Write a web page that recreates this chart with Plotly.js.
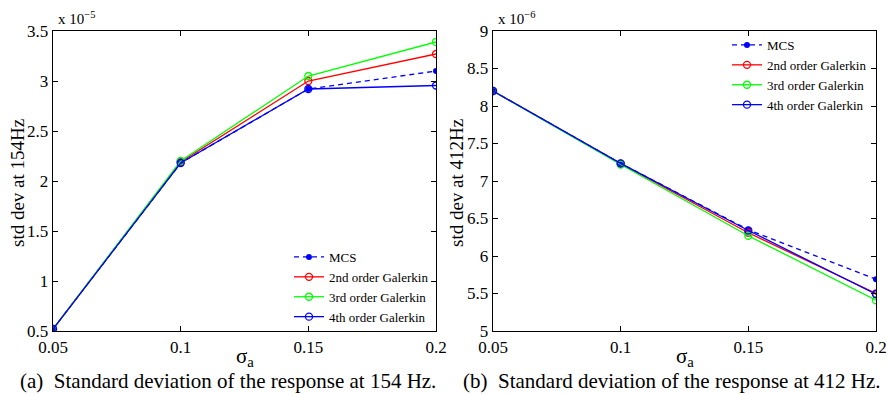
<!DOCTYPE html>
<html>
<head>
<meta charset="utf-8">
<script src="https://cdn.plot.ly/plotly-3.0.1.min.js"></script>
<style>html,body{margin:0;padding:0;background:#fff;}#chart{width:888px;height:394px;}</style>
</head>
<body>
<div id="chart"></div>
<script>
// sigma_a values (x axis)
const sigmaA = [0.05, 0.1, 0.15, 0.2];

// (a) std dev at 154 Hz, in units of 1e-5
const mcs154 = [0.52, 2.18, 2.92, 3.10];
const g2_154 = [0.52, 2.19, 3.00, 3.27];
const g3_154 = [0.52, 2.20, 3.05, 3.39];
const g4_154 = [0.52, 2.18, 2.92, 2.955];

// (b) std dev at 412 Hz, in units of 1e-6
const mcs412 = [8.20, 7.235, 6.35, 5.69];
const g2_412 = [8.20, 7.23, 6.31, 5.50];
const g3_412 = [8.20, 7.22, 6.27, 5.41];
const g4_412 = [8.20, 7.235, 6.34, 5.49];

const seriesNames = ['MCS', '2nd order Galerkin', '3rd order Galerkin', '4th order Galerkin'];
const xTicks = [0.05, 0.1, 0.15, 0.2];
const xTickText = ['0.05', '0.1', '0.15', '0.2'];
const yTicksA = [0.5, 1, 1.5, 2, 2.5, 3, 3.5];
const yTickTextA = ['0.5', '1', '1.5', '2', '2.5', '3', '3.5'];
const yTicksB = [5, 5.5, 6, 6.5, 7, 7.5, 8, 8.5, 9];
const yTickTextB = ['5', '5.5', '6', '6.5', '7', '7.5', '8', '8.5', '9'];
const yTitles = ['std dev at 154Hz', 'std dev at 412Hz'];
const xTitle = 'σ<sub>a</sub>';
const exponents = ['x 10<sup>−5</sup>', 'x 10<sup>−6</sup>'];
const captions = ['(a)  Standard deviation of the response at 154 Hz.',
                  '(b)  Standard deviation of the response at 412 Hz.'];

const FONT = '"Liberation Serif", "Times New Roman", serif';
const colors = ['#0000ff', '#ff0000', '#00ff00', '#0000ff'];

function mk(y, i, xa, ya, leg) {
  const isMCS = i === 0;
  return {
    x: sigmaA, y: y, name: seriesNames[i], type: 'scatter', mode: 'lines+markers',
    xaxis: xa, yaxis: ya, legend: leg,
    line: {color: colors[i], width: 1.3, dash: isMCS ? '5px,4px' : 'solid'},
    marker: isMCS ? {symbol: 'circle', size: 6, color: colors[i]}
                  : {symbol: 'circle-open', size: 7, color: colors[i], line: {width: 1.3, color: colors[i]}}
  };
}

const data = [
  mk(mcs154, 0, 'x', 'y', 'legend'),
  mk(g2_154, 1, 'x', 'y', 'legend'),
  mk(g3_154, 2, 'x', 'y', 'legend'),
  mk(g4_154, 3, 'x', 'y', 'legend'),
  mk(mcs412, 0, 'x2', 'y2', 'legend2'),
  mk(g2_412, 1, 'x2', 'y2', 'legend2'),
  mk(g3_412, 2, 'x2', 'y2', 'legend2'),
  mk(g4_412, 3, 'x2', 'y2', 'legend2')
];

const axBase = {
  showline: true, linecolor: '#000', linewidth: 1.3, mirror: 'ticks',
  ticks: 'inside', ticklen: 5, tickcolor: '#000', tickwidth: 1,
  showgrid: false, zeroline: false, tickfont: {family: FONT, size: 17, color: '#000'}
};

const L = 53, R = 12, T = 31, B = 63;
const W = 888 - L - R;
const H = 394 - T - B;
const px = v => (v - L) / W;
const py = v => (394 - B - v) / H;
const d1 = [0, px(436)];
const d2 = [px(493), 1];

function ann(text, x, y, size, extra) {
  return Object.assign({text: text, xref: 'paper', yref: 'paper', x: px(x), y: py(y),
    xanchor: 'center', yanchor: 'middle', showarrow: false, font: {family: FONT, size: size, color: '#000'}}, extra || {});
}

const layout = {
  width: 888, height: 394,
  margin: {l: L, r: R, t: T, b: B},
  paper_bgcolor: '#fff', plot_bgcolor: '#fff',
  font: {family: FONT, color: '#000'},
  showlegend: true,
  xaxis: Object.assign({}, axBase, {domain: d1, range: [0.05, 0.2], tickvals: xTicks, ticktext: xTickText}),
  yaxis: Object.assign({}, axBase, {range: [0.5, 3.5], tickvals: yTicksA, ticktext: yTickTextA}),
  xaxis2: Object.assign({}, axBase, {domain: d2, anchor: 'y2', range: [0.05, 0.2], tickvals: xTicks, ticktext: xTickText}),
  yaxis2: Object.assign({}, axBase, {anchor: 'x2', range: [5, 9], tickvals: yTicksB, ticktext: yTickTextB}),
  legend: {x: px(434), y: py(332), xanchor: 'right', yanchor: 'bottom', bgcolor: 'rgba(0,0,0,0)',
    font: {family: FONT, size: 13}, tracegroupgap: 0},
  legend2: {x: px(872), y: py(30), xanchor: 'right', yanchor: 'top', bgcolor: 'rgba(0,0,0,0)',
    font: {family: FONT, size: 13}, tracegroupgap: 0},
  annotations: [
    ann(exponents[0], 56, 18, 15, {xanchor: 'left'}),
    ann(exponents[1], 496, 18, 15, {xanchor: 'left'}),
    ann(yTitles[0], 18, 183, 19, {textangle: -90}),
    ann(yTitles[1], 457, 183, 19, {textangle: -90}),
    ann(xTitle, 245, 357, 21),
    ann(xTitle, 685, 357, 21),
    ann(captions[0], 228, 381, 21),
    ann(captions[1], 672, 381, 21)
  ]
};

Plotly.newPlot('chart', data, layout, {displayModeBar: false, staticPlot: true});
</script>
</body>
</html>
